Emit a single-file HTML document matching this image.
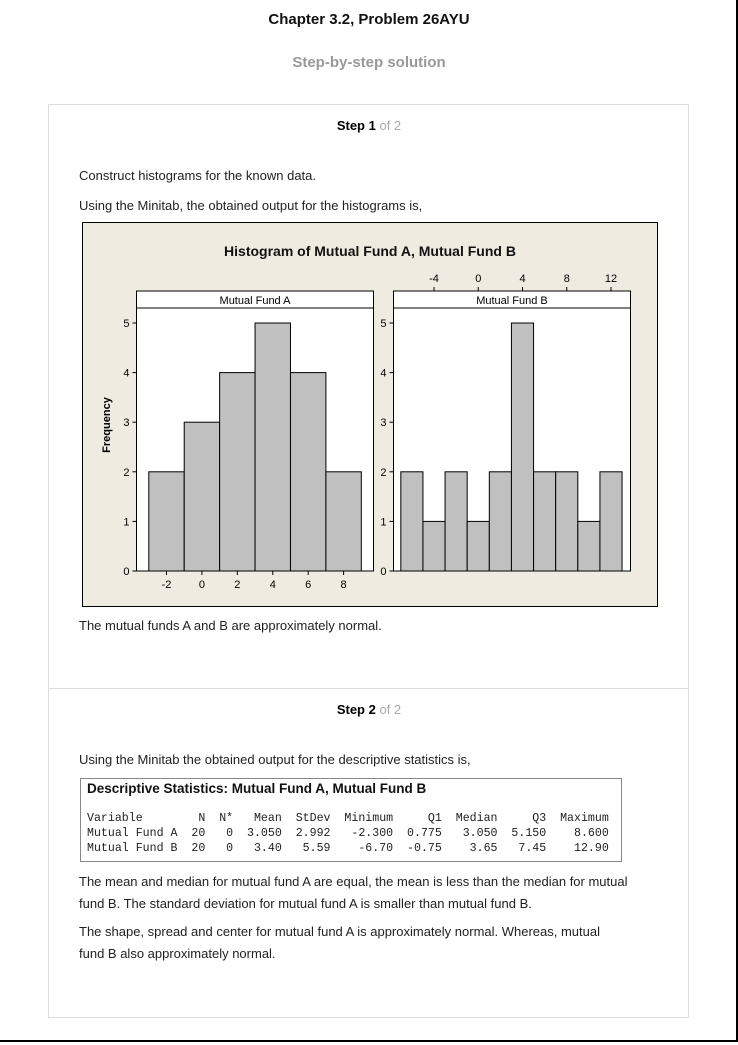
<!DOCTYPE html>
<html><head><meta charset="utf-8"><style>
body{margin:0;background:#fff;font-family:"Liberation Sans",sans-serif;}
#page{position:relative;width:738px;height:1045px;overflow:hidden;}
.abs{position:absolute;}
p{margin:0;}
.t{position:absolute;left:79px;font-size:13px;color:#222;line-height:21px;}
pre{margin:0;font-family:"Liberation Mono",monospace;font-size:11.6px;line-height:15px;color:#222;}
</style></head><body>
<div id="page">
<div class="abs" style="left:736px;top:0;width:2px;height:1042px;background:#000"></div>
<div class="abs" style="left:0;top:1040px;width:738px;height:2px;background:#000"></div>
<div class="abs" style="left:0;width:738px;top:11px;text-align:center;font-weight:bold;font-size:15px;color:#111">Chapter 3.2, Problem 26AYU</div>
<div class="abs" style="left:0;width:738px;top:54px;text-align:center;font-weight:bold;font-size:15px;color:#999">Step-by-step solution</div>
<div class="abs" style="left:48px;top:104px;width:639px;height:912px;border:1px solid #ddd"></div>
<div class="abs" style="left:49px;top:688px;width:639px;height:1px;background:#ddd"></div>
<div class="abs" style="left:0;width:738px;top:118px;text-align:center;font-size:13px"><b>Step 1</b> <span style="color:#aaa">of 2</span></div>
<p class="t" style="top:165px">Construct histograms for the known data.</p>
<p class="t" style="top:195px">Using the Minitab, the obtained output for the histograms is,</p>
<svg class="abs" style="left:82px;top:222px" width="576" height="385" id="chart"></svg>
<p class="t" style="top:615px">The mutual funds A and B are approximately normal.</p>
<div class="abs" style="left:0;width:738px;top:702px;text-align:center;font-size:13px"><b>Step 2</b> <span style="color:#aaa">of 2</span></div>
<p class="t" style="top:749px">Using the Minitab the obtained output for the descriptive statistics is,</p>
<div class="abs" style="left:80px;top:778px;width:540px;height:82px;border:1px solid #888">
<div style="position:absolute;left:6px;top:2px;font-weight:bold;font-size:13.5px;color:#111">Descriptive Statistics: Mutual Fund A, Mutual Fund B</div>
<pre style="position:absolute;left:6px;top:32px">Variable        N  N*   Mean  StDev  Minimum     Q1  Median     Q3  Maximum
Mutual Fund A  20   0  3.050  2.992   -2.300  0.775   3.050  5.150    8.600
Mutual Fund B  20   0   3.40   5.59    -6.70  -0.75    3.65   7.45    12.90</pre>
</div>
<p class="t" style="top:871px;width:560px;line-height:22px">The mean and median for mutual fund A are equal, the mean is less than the median for mutual fund B. The standard deviation for mutual fund A is smaller than mutual fund B.</p>
<p class="t" style="top:921px;width:540px;line-height:22px">The shape, spread and center for mutual fund A is approximately normal. Whereas, mutual fund B also approximately normal.</p>
</div>
<script>
const binsA=[-3,-1,1,3,5,7,9];
const countsA=[2,3,4,5,4,2];
const binsB=[-7,-5,-3,-1,1,3,5,7,9,11,13];
const countsB=[2,1,2,1,2,5,2,2,1,2];
const ticksA=[-2,0,2,4,6,8];
const ticksB=[-4,0,4,8,12];
const ticksY=[0,1,2,3,4,5];
const NS='http://www.w3.org/2000/svg';
const svg=document.getElementById('chart');
function mk(t,a,p){const e=document.createElementNS(NS,t);for(const k in a)e.setAttribute(k,a[k]);(p||svg).appendChild(e);return e;}
const F='"Liberation Sans","DejaVu Sans",sans-serif';
const bg=mk('rect',{x:0.5,y:0.5,width:575,height:384,fill:'#efebe1',stroke:'#000'});


const ttl=mk('text',{x:288,y:34,'text-anchor':'middle','font-size':14,'font-weight':'bold','font-family':F,fill:'#111'});
ttl.textContent='Histogram of Mutual Fund A, Mutual Fund B';


const yl=mk('text',{x:0,y:0,transform:'translate(28,203) rotate(-90)','text-anchor':'middle','font-size':11,'font-weight':'bold','font-family':F});
yl.textContent='Frequency';


const plotTop=69,hdr=86,base=349,unit=(349-101)/5;
const yS=v=>base-v*unit;
function panel(name,x0,x1,xS,bins,counts,ticks,topAxis,key){
  const g=mk('g',{});
  
  
  mk('rect',{x:x0,y:plotTop,width:x1-x0,height:base-plotTop,fill:'#fff',stroke:'#000'},g);
  mk('line',{x1:x0,x2:x1,y1:hdr,y2:hdr,stroke:'#000'},g);
  const h=mk('text',{x:(x0+x1)/2,y:hdr-4,'text-anchor':'middle','font-size':11,'font-family':F},g);
  h.textContent=name;
  
  
  for(let i=0;i<counts.length;i++){
    const r=mk('rect',{x:xS(bins[i]),y:yS(counts[i]),width:xS(bins[i+1])-xS(bins[i]),height:base-yS(counts[i]),fill:'#c0c0c0',stroke:'#000'},g);
    
    
  }
  ticksY.forEach(v=>{
    mk('line',{x1:x0-4,x2:x0,y1:yS(v),y2:yS(v),stroke:'#000'},g);
    const t=mk('text',{x:x0-7,y:yS(v)+4,'text-anchor':'end','font-size':11,'font-family':F},g);
    t.textContent=v;
    
    
  });
  ticks.forEach(v=>{
    const y=topAxis?plotTop:base;
    mk('line',{x1:xS(v),x2:xS(v),y1:y,y2:topAxis?y-4:y+4,stroke:'#000'},g);
    const t=mk('text',{x:xS(v),y:topAxis?y-9:y+17,'text-anchor':'middle','font-size':11,'font-family':F},g);
    t.textContent=v;
    
    
  });
}
const xA=v=>84.5+(v+2)*(261.6-84.5)/10;
const xB=v=>352+(v+4)*(529-352)/16;
panel('Mutual Fund A',54.5,291.5,xA,binsA,countsA,ticksA,false,'fund-a');
panel('Mutual Fund B',311.5,548.5,xB,binsB,countsB,ticksB,true,'fund-b');
</script>
</body></html>
